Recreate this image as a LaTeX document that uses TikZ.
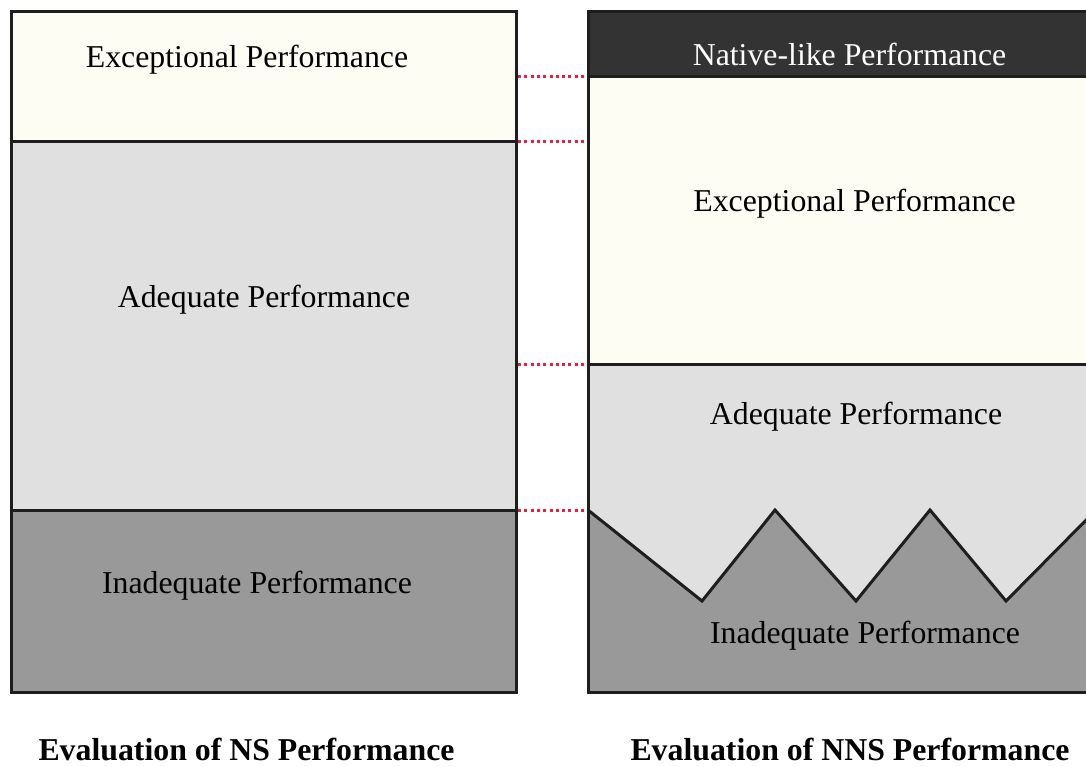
\documentclass[tikz,border=0pt]{standalone}
\usepackage{fontspec}
\setmainfont{Liberation Serif}
\definecolor{excfill}{HTML}{FDFDF4}
\definecolor{adqfill}{HTML}{E0E0E0}
\definecolor{inafill}{HTML}{999999}
\definecolor{natfill}{HTML}{333333}
\definecolor{edge}{HTML}{1E1E1E}
\definecolor{dotred}{HTML}{E8203C}
\tikzset{
  band/.style={line width=3pt, draw=edge},
  lbl/.style={font=\fontsize{31.8}{36}\selectfont, inner sep=0pt, anchor=base},
  ttl/.style={font=\fontsize{31.8}{36}\selectfont\bfseries, inner sep=0pt, anchor=base},
  dotlink/.style={draw=dotred, line width=3pt, dash pattern=on 3pt off 3.3pt}
}
\begin{document}
\begin{tikzpicture}[x=1pt,y=-1pt]
\useasboundingbox (0,0) rectangle (1086,766);
% ---------- left column ----------
\fill[excfill] (11.5,11.5) rectangle (516,141);
\fill[adqfill] (11.5,141) rectangle (516,510);
\fill[inafill] (11.5,510) rectangle (516,692.5);
\draw[band] (11.5,141) -- (516,141);
\draw[band] (11.5,510) -- (516,510);
\draw[band] (11.5,11.5) rectangle (516,692.5);
\coordinate (L1) at (518,76);
\coordinate (L2) at (518,141);
\coordinate (L3) at (518,364);
\coordinate (L4) at (518,510);
% ---------- right column ----------
\begin{scope}
\clip (0,0) rectangle (1086,766);
\fill[natfill] (588,11.5) rectangle (1100,76);
\fill[excfill] (588,76) rectangle (1100,364);
\fill[adqfill] (588,364) rectangle (1100,692.5);
\fill[inafill] (588,510) -- (702,601) -- (775,510) -- (856,601) -- (930,510) -- (1006,601) -- (1100,506) -- (1100,692.5) -- (588,692.5) -- cycle;
\draw[band, line join=miter] (588,510) -- (702,601) -- (775,510) -- (856,601) -- (930,510) -- (1006,601) -- (1100,506);
\draw[band] (588,76) -- (1100,76);
\draw[band] (588,364) -- (1100,364);
\draw[band] (1100,11.5) -- (588,11.5) -- (588,692.5) -- (1100,692.5);
\end{scope}
\coordinate (R1) at (586.5,76);
\coordinate (R2) at (586.5,141);
\coordinate (R3) at (586.5,364);
\coordinate (R4) at (586.5,510);
% ---------- dotted links ----------
\draw[dotlink] (L1) -- (R1);
\draw[dotlink] (L2) -- (R2);
\draw[dotlink] (L3) -- (R3);
\draw[dotlink] (L4) -- (R4);
% ---------- labels ----------
\node[lbl] (lexc) at (247,67.5) {Exceptional Performance};
\node[lbl] (ladq) at (264,307.5) {Adequate Performance};
\node[lbl] (lina) at (257,593.5) {Inadequate Performance};
\node[lbl, text=white] (rnat) at (849.5,65.5) {Native-like Performance};
\node[lbl] (rexc) at (854.5,211.5) {Exceptional Performance};
\node[lbl] (radq) at (856,424.5) {Adequate Performance};
\node[lbl] (rina) at (865,643.5) {Inadequate Performance};
\node[ttl] (tleft) at (246.5,760) {Evaluation of NS Performance};
\node[ttl] (tright) at (850,760) {Evaluation of NNS Performance};
\end{tikzpicture}
\end{document}
